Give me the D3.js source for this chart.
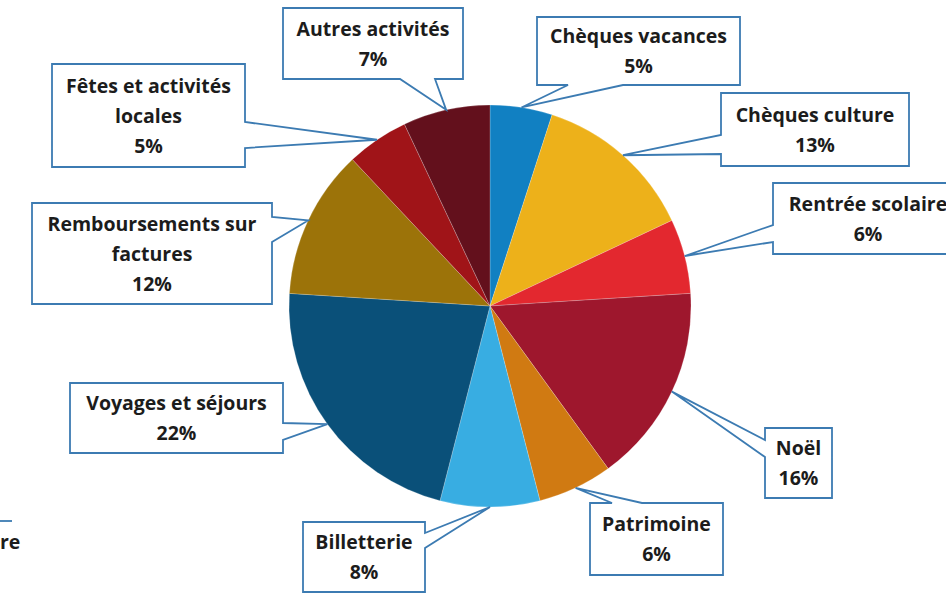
<!DOCTYPE html>
<html>
<head>
<meta charset="utf-8">
<script src="https://cdn.jsdelivr.net/npm/d3@7"></script>
<style>
  body { margin: 0; background: #fff; }
  svg { display: block; }
</style>
</head>
<body>
<div id="chart"></div>
<script>
// Data
const categories = [
  "Chèques vacances", "Chèques culture", "Rentrée scolaire", "Noël", "Patrimoine",
  "Billetterie", "Voyages et séjours", "Remboursements sur factures",
  "Fêtes et activités locales", "Autres activités"
];
const shares = [5, 13, 6, 16, 6, 8, 22, 12, 5, 7];
const sliceColors = [
  "#1180c2", "#edb11a", "#e3282f", "#9e172d", "#d07a12",
  "#38ade2", "#0a5079", "#9c7309", "#a01418", "#63101c"
];

// how the labels wrap in the boxes
const labelLines = [
  ["Chèques vacances"], ["Chèques culture"], ["Rentrée scolaire"], ["Noël"], ["Patrimoine"],
  ["Billetterie"], ["Voyages et séjours"], ["Remboursements sur", "factures"],
  ["Fêtes et activités", "locales"], ["Autres activités"]
];

// callout boxes: position, size and where the pointer leaves the box
const boxes = [
  { x: 537, y: 17, w: 203, h: 68, side: "bottom", a0: 568, a1: 623 },
  { x: 721, y: 93, w: 188, h: 73, side: "left", a0: 135, a1: 154 },
  { x: 773, y: 183, w: 190, h: 71, side: "left", a0: 225, a1: 242 },
  { x: 765, y: 428, w: 67, h: 70, side: "left", a0: 440, a1: 457 },
  { x: 590, y: 503, w: 133, h: 72, side: "top", a0: 612, a1: 642 },
  { x: 303, y: 522, w: 122, h: 70, side: "right", a0: 533, a1: 548 },
  { x: 70, y: 383, w: 213, h: 70, side: "right", a0: 423, a1: 440 },
  { x: 32, y: 203, w: 240, h: 101, side: "right", a0: 217, a1: 242 },
  { x: 52, y: 64, w: 193, h: 103, side: "right", a0: 122, a1: 148 },
  { x: 283, y: 8, w: 180, h: 71, side: "bottom", a0: 400, a1: 435 }
];

const width = 946;
const height = 593;
const cx = 490;
const cy = 306;
const radius = 201;
const lineGap = 30;
const font = "'Open Sans', sans-serif";

const svg = d3.select("#chart")
  .append("svg")
  .attr("width", width)
  .attr("height", height)
  .attr("viewBox", [0, 0, width, height]);

const pie = d3.pie().sort(null).value(d => d);
const arcs = pie(shares);

const arc = d3.arc().innerRadius(0).outerRadius(radius);
const edge = d3.arc().innerRadius(radius).outerRadius(radius);

// Slices
svg.append("g")
  .attr("transform", `translate(${cx},${cy})`)
  .selectAll("path")
  .data(arcs)
  .join("path")
  .attr("d", arc)
  .attr("fill", (d, i) => sliceColors[i])
  .attr("stroke", "#fff")
  .attr("stroke-opacity", 0.35)
  .attr("stroke-width", 0.6);

// Callout outline with the pointer wedge
function calloutPath(b, tip) {
  const { x, y, w, h, side, a0, a1 } = b;
  const t = `${tip[0]},${tip[1]}`;
  let p = `M${x},${y}`;
  if (side === "top") p += `H${a0}L${t}L${a1},${y}`;
  p += `H${x + w}`;
  if (side === "right") p += `V${a0}L${t}L${x + w},${a1}`;
  p += `V${y + h}`;
  if (side === "bottom") p += `H${a1}L${t}L${a0},${y + h}`;
  p += `H${x}`;
  if (side === "left") p += `V${a1}L${t}L${x},${a0}`;
  return p + "Z";
}

const labels = svg.append("g")
  .selectAll("g")
  .data(arcs)
  .join("g");

labels.append("path")
  .attr("d", (d, i) => {
    const [px, py] = edge.centroid(d);
    return calloutPath(boxes[i], [cx + px, cy + py]);
  })
  .attr("fill", "#fff")
  .attr("stroke", "#3c7bb2")
  .attr("stroke-width", 1.8)
  .attr("stroke-linejoin", "miter");

labels.append("text")
  .attr("font-family", font)
  .attr("font-weight", 700)
  .attr("font-size", "19.5px")
  .attr("fill", "#1c1c1c")
  .attr("text-anchor", "middle")
  .each(function(d, i) {
    const b = boxes[i];
    const lines = [...labelLines[i], `${shares[i]}%`];
    const mid = b.y + b.h / 2;
    lines.forEach((s, k) => {
      d3.select(this).append("tspan")
        .attr("x", b.x + b.w / 2)
        .attr("y", mid + (k - (lines.length - 1) / 2) * lineGap + 7)
        .text(s);
    });
  });

// fragment of another box at the lower-left edge
svg.append("line")
  .attr("x1", 0).attr("x2", 12)
  .attr("y1", 521).attr("y2", 521)
  .attr("stroke", "#3c7bb2")
  .attr("stroke-width", 1.8);

svg.append("text")
  .attr("x", 0)
  .attr("y", 549)
  .attr("font-family", font)
  .attr("font-weight", 700)
  .attr("font-size", "19.5px")
  .attr("fill", "#1c1c1c")
  .text("re");
</script>
</body>
</html>
